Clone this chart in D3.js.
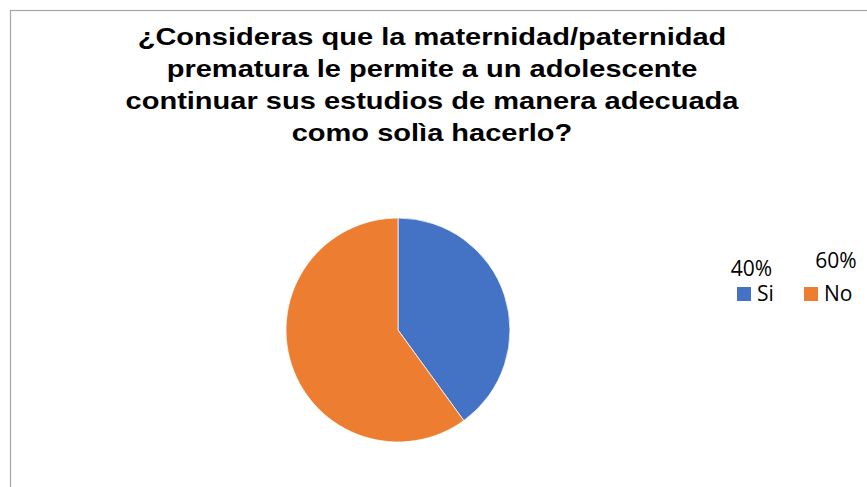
<!DOCTYPE html>
<html><head><meta charset="utf-8">
<script src="https://cdn.jsdelivr.net/npm/d3@7"></script>
<style>body{margin:0;background:#fff}svg{display:block}</style>
</head><body>
<svg id="c" width="867" height="487"></svg>
<script>
const categories = ["Si", "No"];
const values = [40, 60];
const valueLabels = ["40%", "60%"];
const titleLines = [
  "¿Consideras que la maternidad/paternidad",
  "prematura le permite a un adolescente",
  "continuar sus estudios de manera adecuada",
  "como solìa hacerlo?"
];
const colors = ["#4472C4", "#ED7D31"];

const svg = d3.select("#c");
svg.append("rect").attr("x", 0).attr("y", 0).attr("width", 867).attr("height", 487).attr("fill", "#fff");
svg.append("rect").attr("x", 10.5).attr("y", 10.5).attr("width", 900).attr("height", 520)
  .attr("fill", "none").attr("stroke", "#a6a6a6").attr("stroke-width", 1.2);

// title (horizontally widened to match reference glyph width)
svg.append("g").attr("transform", "translate(432,0) scale(1.21,1)")
  .selectAll("text").data(titleLines).join("text")
  .attr("x", 0).attr("y", (d, i) => 45 + i * 32)
  .attr("text-anchor", "middle")
  .style("font-family", "'Liberation Sans', Arial, sans-serif")
  .style("font-weight", "bold").style("font-size", "24px").attr("fill", "#000")
  .text(d => d);

// pie
const cx = 398, cy = 330, r = 112;
const pie = d3.pie().sort(null).value(d => d)(values);
const arc = d3.arc().innerRadius(0).outerRadius(r);
svg.append("g").attr("transform", `translate(${cx},${cy})`)
  .selectAll("path").data(pie).join("path")
  .attr("d", arc).attr("fill", (d, i) => colors[i])
  .attr("stroke", "#fff").attr("stroke-width", 0.75);

// legend with value labels
const font = "'Open Sans', Calibri, sans-serif";
const legendX = [737, 804];
const labelPos = [{x: 751.5, y: 276}, {x: 836, y: 268}];
const lg = svg.append("g");
categories.forEach((c, i) => {
  lg.append("rect").attr("x", legendX[i]).attr("y", 287).attr("width", 14).attr("height", 14).attr("fill", colors[i]);
  lg.append("text").attr("x", legendX[i] + 20).attr("y", 301)
    .style("font-family", font).style("font-size", "21px").attr("fill", "#000").text(c);
  lg.append("text").attr("x", labelPos[i].x).attr("y", labelPos[i].y).attr("text-anchor", "middle")
    .style("font-family", font).style("font-size", "21px").attr("fill", "#000").text(valueLabels[i]);
});
</script>
</body></html>
